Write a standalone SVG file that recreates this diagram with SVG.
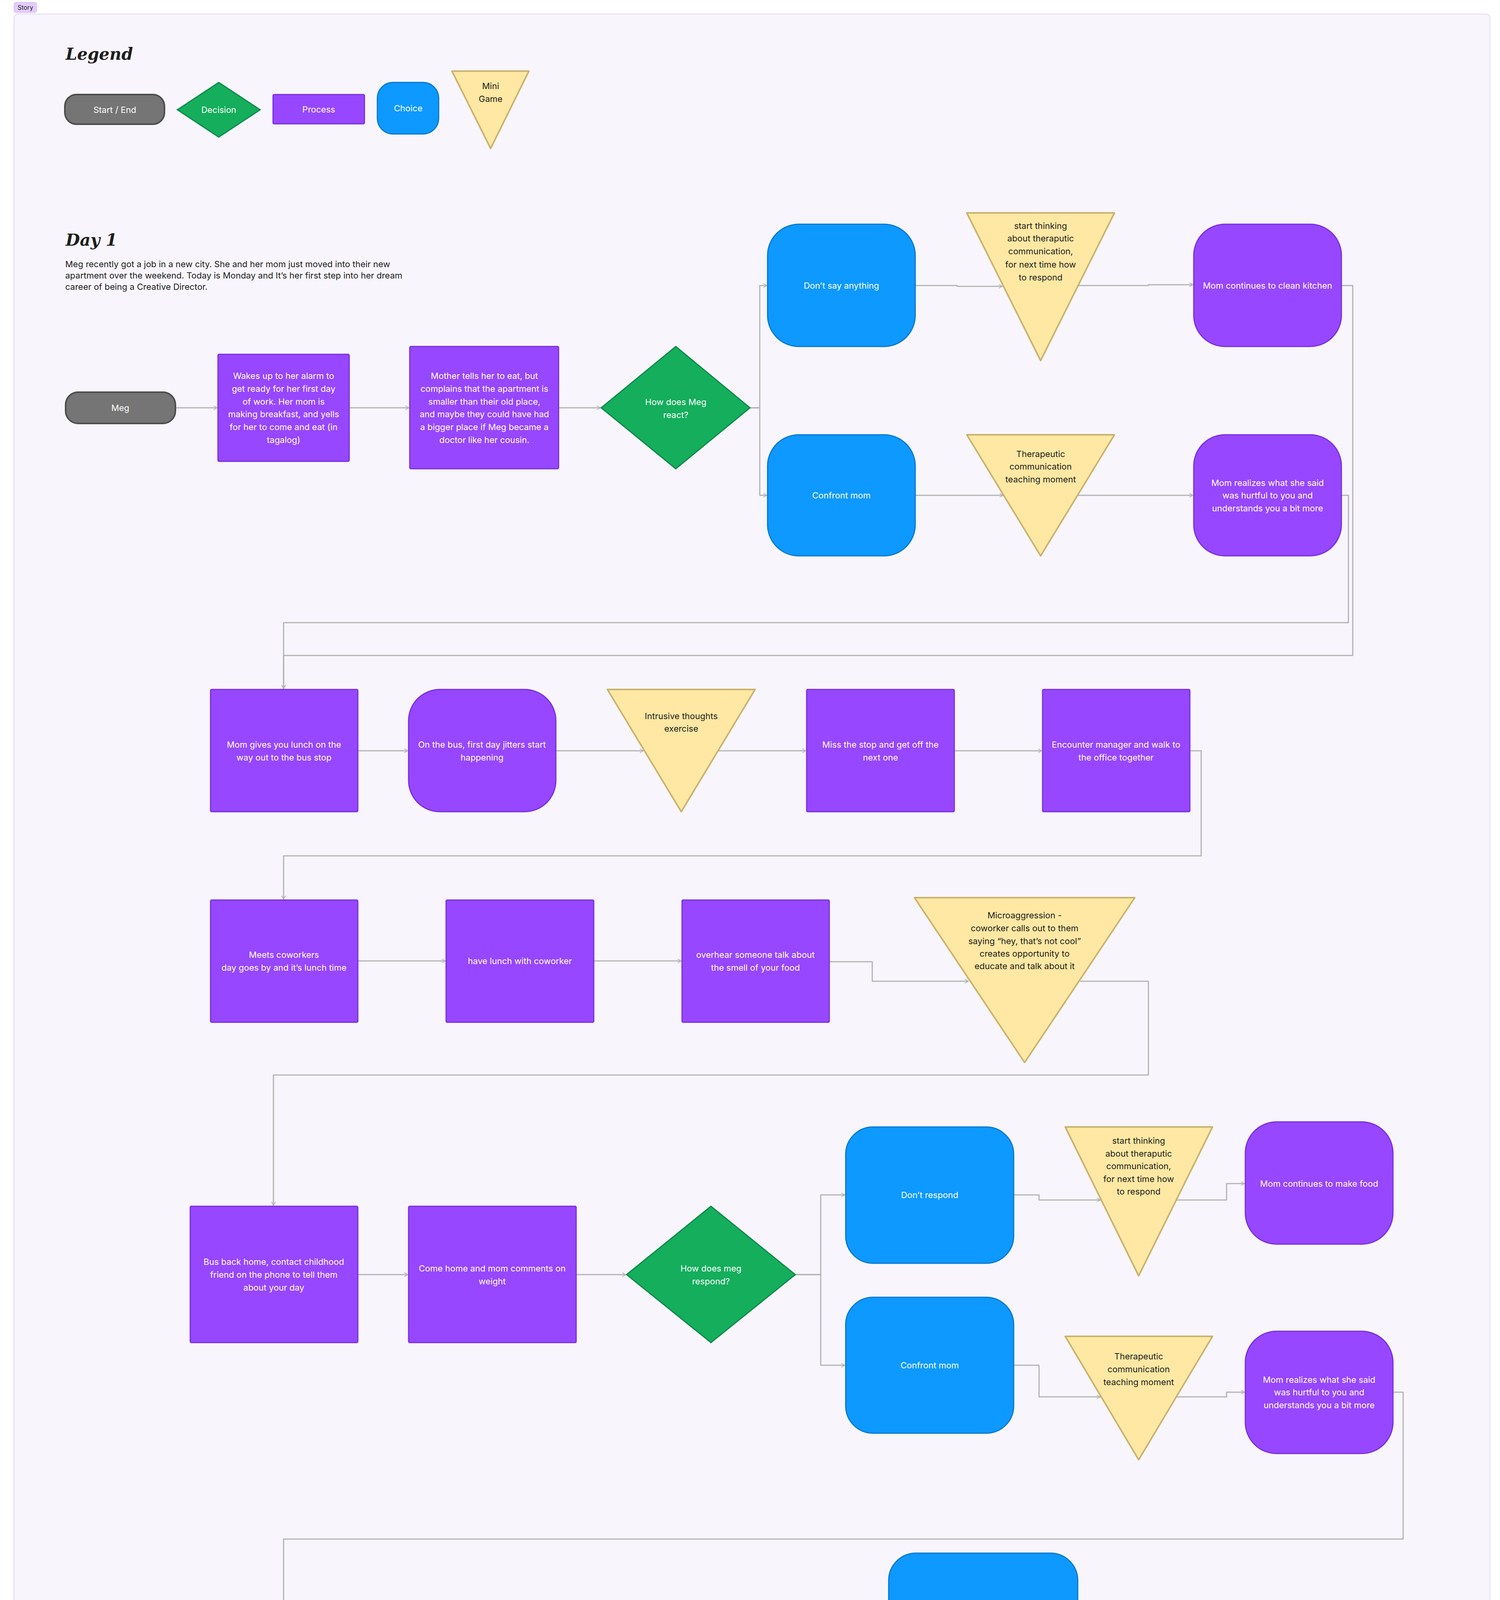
<svg xmlns="http://www.w3.org/2000/svg" width="3840" height="5047" viewBox="0 0 3840 5047">
<style>
text{font-family:Inter,"Liberation Sans",sans-serif;font-size:22px;text-anchor:middle;dominant-baseline:central}
.w{fill:#fff}.k{fill:#1e1e1e}
.pr{fill:#9747FF;stroke:#7B2FE0;stroke-width:3}
.ch{fill:#0D99FF;stroke:#0A78D0;stroke-width:3}
.de{fill:#14AE5C;stroke:#0D8A47;stroke-width:3}
.se{fill:#757575;stroke:#4D4D4D;stroke-width:4}
.mg{fill:#FFE8A3;stroke:#C9B26D;stroke-width:4;stroke-linejoin:round}
.c{fill:none;stroke:#B3B3B3;stroke-width:3;stroke-linejoin:round;marker-end:url(#a)}
.h{font-family:"DejaVu Serif","Liberation Serif",serif;font-style:italic;font-weight:bold;font-size:42px;text-anchor:start;fill:#1e1e1e}
.p{text-anchor:start;font-size:22px;fill:#1e1e1e}
</style>
<defs><marker id="a" viewBox="0 0 12 12" refX="11" refY="6" markerWidth="12" markerHeight="12" markerUnits="userSpaceOnUse" orient="auto"><path d="M2 1L11 6L2 11" fill="none" stroke="#B3B3B3" stroke-width="2"/></marker></defs>
<rect width="3840" height="5047" fill="#fff"/>
<rect x="36" y="36" width="3778" height="4990" rx="10" fill="#F8F6FC" stroke="#EAE2F6" stroke-width="3"/>
<rect x="36" y="6" width="58" height="26" rx="5" fill="#E4CCFF" stroke="#C9A6F5"/>
<text x="65" y="19" class="k" style="font-size:16px">Story</text>
<text x="168" y="138" class="h">Legend</text>
<text x="168" y="614" class="h">Day 1</text>
<text class="p"><tspan x="167" y="676">Meg recently got a job in a new city. She and her mom just moved into their new</tspan><tspan x="167" y="705">apartment over the weekend. Today is Monday and It’s her first step into her dream</tspan><tspan x="167" y="734">career of being a Creative Director.</tspan></text>
<g id="legend">
<rect class="se" x="166" y="242" width="255" height="76" rx="30"/><text x="294" y="281" class="w">Start / End</text>
<polygon class="de" points="454,281 560,211 666,281 560,351"/><text x="560" y="281" class="w">Decision</text>
<rect class="pr" x="699" y="242" width="234" height="75" rx="3"/><text x="816" y="280" class="w">Process</text>
<rect class="ch" x="966" y="211" width="157" height="132" rx="40"/><text x="1045" y="277" class="w">Choice</text>
<polygon class="mg" points="1157,182 1354,182 1256,380"/><text x="1256" y="220" class="k">Mini</text><text x="1256" y="253" class="k">Game</text>
</g>
<g id="connectors">
<path class="c" d="M449 1044H556"/>
<path class="c" d="M894 1044H1047"/>
<path class="c" d="M1430 1044H1537"/>
<path class="c" d="M1920 1044H1945V731H1963"/>
<path class="c" d="M1920 1044H1945V1268H1963"/>
<path class="c" d="M2343 731H2450V733H2566"/>
<path class="c" d="M2760 731H2940V729H3054"/>
<path class="c" d="M2343 1268H2568"/>
<path class="c" d="M2758 1268H3054"/>
<path class="c" d="M3434 731H3463V1678H726V1763"/>
<path class="c" d="M3434 1268H3452V1594H726V1763"/>
<path class="c" d="M916 1922H1044"/>
<path class="c" d="M1423 1922H1647"/>
<path class="c" d="M1839 1922H2063"/>
<path class="c" d="M2443 1922H2667"/>
<path class="c" d="M3046 1922H3075V2191H726V2302"/>
<path class="c" d="M916 2460H1140"/>
<path class="c" d="M1520 2460H1744"/>
<path class="c" d="M2123 2462H2233V2512H2479"/>
<path class="c" d="M2765 2512H2940V2752H700V3086"/>
<path class="c" d="M916 3263H1044"/>
<path class="c" d="M1475 3263H1602"/>
<path class="c" d="M2036 3263H2101V3059H2163"/>
<path class="c" d="M2036 3263H2101V3495H2163"/>
<path class="c" d="M2595 3059H2660V3072H2817"/>
<path class="c" d="M3012 3072H3140V3030H3186"/>
<path class="c" d="M2595 3495H2660V3576H2817"/>
<path class="c" d="M3012 3576H3140V3564H3186"/>
<path class="c" d="M3566 3564H3592V3940H726V4161"/>
<path class="c" d="M916 4321H975V4340H1044"/>
<path class="c" d="M1533 4340H1782"/>
<path class="c" d="M2021 4340H2211V4150H2273"/>
<path class="c" d="M2021 4340H2211V4570H2273"/>
<path class="c" d="M2759 4150H3095V4322"/>
<path class="c" d="M2759 4573H3095V4410"/>
</g>
<g id="meg"><rect class="se" x="168" y="1004" width="281" height="80" rx="32"/><text x="308" y="1044" class="w">Meg</text></g>
<g id="wakes"><rect class="pr" x="558" y="907" width="336" height="274" rx="3"/><text class="w"><tspan x="726" y="962">Wakes up to her alarm to</tspan><tspan x="726" y="995">get ready for her first day</tspan><tspan x="726" y="1028">of work. Her mom is</tspan><tspan x="726" y="1060">making breakfast, and yells</tspan><tspan x="726" y="1093">for her to come and eat (in</tspan><tspan x="726" y="1126">tagalog)</tspan></text></g>
<g id="mother"><rect class="pr" x="1049" y="887" width="381" height="313" rx="3"/><text class="w"><tspan x="1240" y="962">Mother tells her to eat, but</tspan><tspan x="1240" y="995">complains that the apartment is</tspan><tspan x="1240" y="1028">smaller than their old place,</tspan><tspan x="1240" y="1060">and maybe they could have had</tspan><tspan x="1240" y="1093">a bigger place if Meg became a</tspan><tspan x="1240" y="1126">doctor like her cousin.</tspan></text></g>
<g id="react"><polygon class="de" points="1539,1044 1730,887 1920,1044 1730,1200"/><text class="w"><tspan x="1730" y="1029">How does Meg</tspan><tspan x="1730" y="1062">react?</tspan></text></g>
<g id="dontsay"><rect class="ch" x="1965" y="574" width="378" height="313" rx="80"/><text x="2154" y="731" class="w">Don’t say anything</text></g>
<g id="tri1"><polygon class="mg" points="2475,545 2853,545 2664,923"/><text class="k"><tspan x="2664" y="578">start thinking</tspan><tspan x="2664" y="610">about theraputic</tspan><tspan x="2664" y="643">communication,</tspan><tspan x="2664" y="677">for next time how</tspan><tspan x="2664" y="710">to respond</tspan></text></g>
<g id="kitchen"><rect class="pr" x="3056" y="574" width="378" height="313" rx="80"/><text x="3245" y="731" class="w">Mom continues to clean kitchen</text></g>
<g id="confront1"><rect class="ch" x="1965" y="1113" width="378" height="310" rx="80"/><text x="2154" y="1268" class="w">Confront mom</text></g>
<g id="tri2"><polygon class="mg" points="2475,1113 2853,1113 2664,1423"/><text class="k"><tspan x="2664" y="1162">Therapeutic</tspan><tspan x="2664" y="1194">communication</tspan><tspan x="2664" y="1227">teaching moment</tspan></text></g>
<g id="realizes1"><rect class="pr" x="3056" y="1113" width="378" height="310" rx="80"/><text class="w"><tspan x="3245" y="1236">Mom realizes what she said</tspan><tspan x="3245" y="1268">was hurtful to you and</tspan><tspan x="3245" y="1301">understands you a bit more</tspan></text></g>
<g id="lunch"><rect class="pr" x="539" y="1765" width="377" height="313" rx="3"/><text class="w"><tspan x="727" y="1906">Mom gives you lunch on the</tspan><tspan x="727" y="1939">way out to the bus stop</tspan></text></g>
<g id="bus"><rect class="pr" x="1046" y="1765" width="377" height="313" rx="80"/><text class="w"><tspan x="1234" y="1906">On the bus, first day jitters start</tspan><tspan x="1234" y="1939">happening</tspan></text></g>
<g id="intrusive"><polygon class="mg" points="1555,1765 1933,1765 1744,2078"/><text class="k"><tspan x="1744" y="1833">Intrusive thoughts</tspan><tspan x="1744" y="1865">exercise</tspan></text></g>
<g id="miss"><rect class="pr" x="2065" y="1765" width="378" height="313" rx="3"/><text class="w"><tspan x="2254" y="1906">Miss the stop and get off the</tspan><tspan x="2254" y="1939">next one</tspan></text></g>
<g id="manager"><rect class="pr" x="2669" y="1765" width="377" height="313" rx="3"/><text class="w"><tspan x="2857" y="1906">Encounter manager and walk to</tspan><tspan x="2857" y="1939">the office together</tspan></text></g>
<g id="meets"><rect class="pr" x="539" y="2304" width="377" height="313" rx="3"/><text class="w"><tspan x="727" y="2444">Meets coworkers</tspan><tspan x="727" y="2477">day goes by and it’s lunch time</tspan></text></g>
<g id="havelunch"><rect class="pr" x="1142" y="2304" width="378" height="313" rx="3"/><text x="1331" y="2460" class="w">have lunch with coworker</text></g>
<g id="overhear"><rect class="pr" x="1746" y="2304" width="377" height="313" rx="3"/><text class="w"><tspan x="1934" y="2444">overhear someone talk about</tspan><tspan x="1934" y="2477">the smell of your food</tspan></text></g>
<g id="micro"><polygon class="mg" points="2341,2298 2905,2298 2623,2720"/><text class="k"><tspan x="2623" y="2343">Microaggression -</tspan><tspan x="2623" y="2376">coworker calls out to them</tspan><tspan x="2623" y="2409">saying “hey, that’s not cool”</tspan><tspan x="2623" y="2441">creates opportunity to</tspan><tspan x="2623" y="2473">educate and talk about it</tspan></text></g>
<g id="busback"><rect class="pr" x="487" y="3088" width="429" height="349" rx="3"/><text class="w"><tspan x="701" y="3230">Bus back home, contact childhood</tspan><tspan x="701" y="3263">friend on the phone to tell them</tspan><tspan x="701" y="3296">about your day</tspan></text></g>
<g id="comehome"><rect class="pr" x="1046" y="3088" width="429" height="349" rx="3"/><text class="w"><tspan x="1260" y="3247">Come home and mom comments on</tspan><tspan x="1260" y="3280">weight</tspan></text></g>
<g id="respond"><polygon class="de" points="1604,3263 1820,3088 2036,3263 1820,3437"/><text class="w"><tspan x="1820" y="3247">How does meg</tspan><tspan x="1820" y="3280">respond?</tspan></text></g>
<g id="dontrespond"><rect class="ch" x="2165" y="2885" width="430" height="349" rx="70"/><text x="2380" y="3059" class="w">Don’t respond</text></g>
<g id="tri3"><polygon class="mg" points="2727,2885 3104,2885 2915,3266"/><text class="k"><tspan x="2915" y="2920">start thinking</tspan><tspan x="2915" y="2953">about theraputic</tspan><tspan x="2915" y="2985">communication,</tspan><tspan x="2915" y="3018">for next time how</tspan><tspan x="2915" y="3050">to respond</tspan></text></g>
<g id="food"><rect class="pr" x="3188" y="2872" width="378" height="313" rx="80"/><text x="3377" y="3030" class="w">Mom continues to make food</text></g>
<g id="confront2"><rect class="ch" x="2165" y="3321" width="430" height="348" rx="70"/><text x="2380" y="3495" class="w">Confront mom</text></g>
<g id="tri4"><polygon class="mg" points="2727,3421 3104,3421 2915,3737"/><text class="k"><tspan x="2915" y="3472">Therapeutic</tspan><tspan x="2915" y="3505">communication</tspan><tspan x="2915" y="3538">teaching moment</tspan></text></g>
<g id="realizes2"><rect class="pr" x="3188" y="3408" width="378" height="313" rx="80"/><text class="w"><tspan x="3377" y="3532">Mom realizes what she said</tspan><tspan x="3377" y="3564">was hurtful to you and</tspan><tspan x="3377" y="3597">understands you a bit more</tspan></text></g>
<g id="exhausted"><rect class="pr" x="539" y="4163" width="377" height="316" rx="3"/><text class="w"><tspan x="727" y="4305">Exhausted from work and lay in</tspan><tspan x="727" y="4338">bed</tspan></text></g>
<g id="thinking"><polygon class="de" points="1046,4339 1290,4163 1533,4339 1290,4515"/><text class="w"><tspan x="1290" y="4307">Start thinking about</tspan><tspan x="1290" y="4340">the emotions you went</tspan><tspan x="1290" y="4373">through today</tspan></text></g>
<g id="adaptive"><polygon class="mg" points="1662,4163 2143,4163 1902,4511"/><text class="k"><tspan x="1902" y="4224">adaptive and</tspan><tspan x="1902" y="4257">maladaptive behaviors</tspan><tspan x="1902" y="4290">mini game</tspan></text></g>
<g id="good"><rect class="ch" x="2275" y="3976" width="484" height="348" rx="70"/><text x="2517" y="4150" class="w">good score leads to journaling</text></g>
<g id="bad"><rect class="ch" x="2275" y="4398" width="484" height="349" rx="70"/><text class="w"><tspan x="2517" y="4557">bad score leads to pulling out alcohol from</tspan><tspan x="2517" y="4590">the kitchen</tspan></text></g>
<g id="end"><rect class="se" x="2956" y="4324" width="281" height="84" rx="32"/><text x="3096" y="4366" class="w">End</text></g>
</svg>
